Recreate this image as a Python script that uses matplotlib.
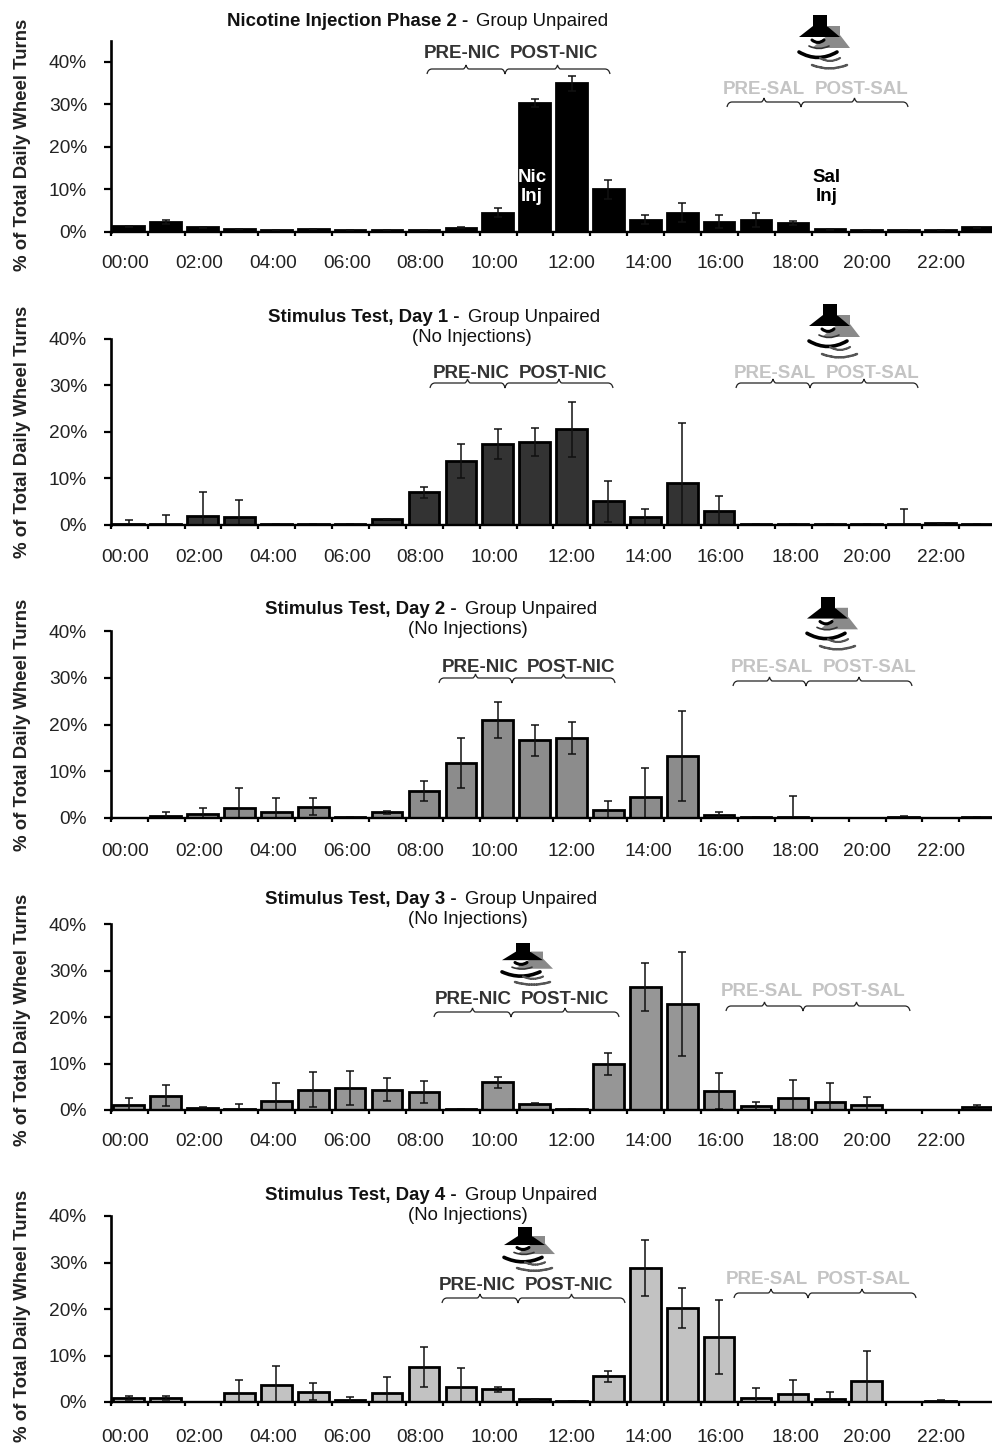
import matplotlib
matplotlib.use('Agg')
import matplotlib.pyplot as plt
from matplotlib.patches import Polygon, PathPatch
from matplotlib.path import Path

plt.rcParams['font.family'] = ['Liberation Sans', 'DejaVu Sans']

W, H = 992, 1446
AX_LEFT = 110.7
HOUR_PX = 36.9

hours = list(range(24))
hour_labels = ['00:00', '02:00', '04:00', '06:00', '08:00', '10:00',
               '12:00', '14:00', '16:00', '18:00', '20:00', '22:00']
y_ticks = [0, 10, 20, 30, 40]

# values, % of wheel turns per hour
nic_vals = [1.3, 2.3, 1.0, 0.7, 0.3, 0.6, 0.3, 0.3, 0.3, 0.9, 4.5, 30.3,
            35.0, 10.0, 2.8, 4.5, 2.4, 2.8, 2.0, 0.6, 0.3, 0.3, 0.3, 1.0]
nic_err = [0.1, 0.4, 0.1, 0, 0, 0, 0, 0, 0, 0.1, 1.1, 0.9,
           1.8, 2.2, 1.1, 2.2, 1.5, 1.7, 0.5, 0.1, 0, 0, 0, 0.1]
day1_vals = [0.1, 0.2, 1.9, 1.6, 0.1, 0.2, 0.2, 1.2, 6.9, 13.7, 17.3, 17.8,
             20.5, 5.0, 1.6, 9.0, 3.0, 0.1, 0.2, 0.2, 0.1, 0.1, 0.3, 0.1]
day1_err = [0.9, 1.9, 5.0, 3.6, 0, 0, 0, 0, 1.1, 3.6, 3.3, 3.0,
            5.9, 4.4, 1.8, 12.8, 3.2, 0, 0, 0, 0, 3.3, 0.1, 0]
day2_vals = [0.0, 0.4, 0.8, 2.2, 1.3, 2.4, 0.2, 1.2, 5.8, 11.8, 21.0, 16.6,
             17.1, 1.7, 4.4, 13.2, 0.6, 0.3, 0.3, 0.0, 0.0, 0.3, 0.0, 0.3]
day2_err = [0, 0.9, 1.3, 4.2, 2.9, 1.8, 0, 0.4, 2.1, 5.4, 3.8, 3.4,
            3.4, 2.0, 6.2, 9.6, 0.7, 0, 4.5, 0, 0, 0.1, 0, 0]
day3_vals = [1.1, 3.1, 0.4, 0.2, 1.9, 4.4, 4.7, 4.4, 3.9, 0.2, 6.0, 1.3,
             0.3, 9.9, 26.5, 22.8, 4.1, 0.8, 2.5, 1.7, 1.0, 0.0, 0.0, 0.6]
day3_err = [1.4, 2.2, 0.2, 1.1, 3.9, 3.8, 3.7, 2.4, 2.3, 0, 1.2, 0.2,
            0, 2.3, 5.2, 11.2, 3.9, 1.0, 3.9, 4.2, 1.7, 0, 0, 0.4]
day4_vals = [0.8, 0.8, 0.0, 2.0, 3.7, 2.2, 0.4, 2.0, 7.5, 3.2, 2.7, 0.7,
             0.2, 5.5, 28.8, 20.2, 14.0, 0.9, 1.7, 0.6, 4.5, 0.0, 0.3, 0.0]
day4_err = [0.4, 0.4, 0, 2.7, 4.1, 1.8, 0.7, 3.4, 4.3, 4.2, 0.6, 0,
            0, 1.2, 6.1, 4.3, 8.0, 2.2, 3.1, 1.6, 6.4, 0, 0.1, 0]

bold_titles = ['Nicotine Injection Phase 2 -', 'Stimulus Test, Day 1 -',
               'Stimulus Test, Day 2 -', 'Stimulus Test, Day 3 -',
               'Stimulus Test, Day 4 -']
bar_colors = ['#000000', '#333333', '#8c8c8c', '#969696', '#c2c2c2']
all_vals = [nic_vals, day1_vals, day2_vals, day3_vals, day4_vals]
all_err = [nic_err, day1_err, day2_err, day3_err, day4_err]

# the hour labels are not quite regular in the figure, px right of the tick
label_offs = [14.3, 14.5, 14.7, 14.9, 14.1, 14.3, 17.5, 20.7, 18.9, 20.1, 18.3, 18.5]

# pixel layout: y of 0%, y of 40%, top of spine, hour label y, y label centre
axes_px = [
    (231.7, 62, 41, 262, 145),
    (524.5, 338.5, 338.5, 556, 432),
    (818, 631, 631, 850, 725),
    (1110, 924, 924, 1140, 1020),
    (1402, 1216, 1216, 1436, 1316),
]
# title: bold x, plain x, title y, sub title x, sub title y
titles_px = [
    (227, 476, 22, None, None),
    (268, 468, 318, 412, 338),
    (265, 465, 610, 408, 630),
    (265, 465, 900, 408, 920),
    (265, 465, 1196, 408, 1216),
]
# braces: start, middle, end, flat y, label y
nic_braces = [(427, 505, 610, 69, 54), (430, 505, 613, 383, 373), (439, 512, 615, 678, 668),
              (434, 511, 619, 1012, 999), (442, 518, 625, 1298, 1285)]
sal_braces = [(727, 801, 908, 102, 89), (736, 810, 918, 383, 373), (733, 806, 912, 681, 668),
              (726, 803, 910, 1006, 991), (734, 808, 916, 1293, 1280)]
# x of PRE and POST labels
nic_labels = [(424, 510), (433, 519), (442, 527), (435, 521), (439, 525)]
sal_labels = [(723, 815), (734, 826), (731, 823), (721, 812), (726, 817)]
# speaker: stem centre, top, height scale
speakers = [(820, 15, 1.0), (830, 304, 1.0), (828, 597, 0.98), (523, 943, 0.78), (525, 1227, 0.82)]

fig = plt.figure(figsize=(W / 100, H / 100), dpi=100)
overlay = fig.add_axes([0, 0, 1, 1], zorder=5)
overlay.set_xlim(0, W)
overlay.set_ylim(H, 0)
overlay.axis('off')


def brace(x0, xm, x1, y, color='#222222'):
    # curly bracket, points up in each half and down at the middle
    h = 5
    q1 = (x0 + xm) / 2
    q2 = (xm + x1) / 2
    verts = [(x0, y + h), (x0 + 1, y), (x0 + 5, y), (q1 - 3, y), (q1 - 1, y), (q1, y - 4),
             (q1 + 1, y), (q1 + 3, y), (xm - 4, y), (xm - 1, y), (xm, y + h),
             (xm + 1, y), (xm + 4, y), (q2 - 3, y), (q2 - 1, y), (q2, y - 4),
             (q2 + 1, y), (q2 + 3, y), (x1 - 5, y), (x1 - 1, y), (x1, y + h)]
    codes = [Path.MOVETO, Path.CURVE3, Path.CURVE3, Path.LINETO, Path.CURVE3, Path.CURVE3,
             Path.CURVE3, Path.CURVE3, Path.LINETO, Path.CURVE3, Path.CURVE3,
             Path.CURVE3, Path.CURVE3, Path.LINETO, Path.CURVE3, Path.CURVE3,
             Path.CURVE3, Path.CURVE3, Path.LINETO, Path.CURVE3, Path.CURVE3]
    overlay.add_patch(PathPatch(Path(verts, codes), fc='none', ec=color, lw=0.9))


def arc(x0, x1, y, bow, color, lw, ls='-'):
    mid = (x0 + x1) / 2
    p = Path([(x0, y), (mid, y + bow), (x1, y)], [Path.MOVETO, Path.CURVE3, Path.CURVE3])
    overlay.add_patch(PathPatch(p, fc='none', ec=color, lw=lw, ls=ls, capstyle='round'))


def speaker(cx, top, sy):
    # grey one sits behind and lower right of the black one
    gx = cx + 14
    gy = top + 11 * sy
    overlay.add_patch(Polygon([(gx - 6, gy), (gx + 6, gy), (gx + 6, gy + 9 * sy), (gx + 16, gy + 22 * sy),
                               (gx - 22, gy + 22 * sy), (gx - 6, gy + 9 * sy)], fc='#8a8a8a', ec='none'))
    overlay.add_patch(Polygon([(cx - 7, top), (cx + 7, top), (cx + 7, top + 11 * sy), (cx + 20, top + 22 * sy),
                               (cx - 21, top + 22 * sy), (cx - 7, top + 11 * sy)], fc='black', ec='none'))
    arc(cx - 8, cx + 4, top + 25 * sy, 5 * sy, 'black', 2.2)
    arc(cx - 11, cx + 9, top + 31 * sy, 5 * sy, '#333333', 1.2)
    arc(cx - 21, cx + 17, top + 37 * sy, 11 * sy, 'black', 2.6)
    arc(cx, cx + 20, top + 43 * sy, 6 * sy, '#555555', 1.6, ls=(0, (0.6, 0.4)))
    arc(cx - 8, cx + 27, top + 50 * sy, 7 * sy, '#555555', 1.8, ls=(0, (0.6, 0.4)))


for i, (vals, errs) in enumerate(zip(all_vals, all_err)):
    y0, y40, ytop, lab_y, ylab_y = axes_px[i]
    ax = fig.add_axes([AX_LEFT / W, 1 - y0 / H, (W - AX_LEFT) / W, (y0 - ytop) / H])
    ax.set_xlim(0, (W - AX_LEFT) / HOUR_PX)
    ax.set_ylim(0, 40 * (y0 - ytop) / (y0 - y40))

    xs = [h + 0.49 for h in hours]
    ax.bar(xs, vals, width=0.83, color=bar_colors[i], edgecolor='black', linewidth=2.0)
    ax.errorbar(xs, vals, yerr=errs, fmt='none', ecolor='#111111', elinewidth=1.1,
                capsize=3, capthick=1.1)

    for s in ['top', 'right']:
        ax.spines[s].set_visible(False)
    ax.spines['left'].set_linewidth(1.9)
    ax.spines['bottom'].set_linewidth(1.7)
    ax.set_yticks(y_ticks)
    ax.set_yticklabels([f'{v}%' for v in y_ticks], fontsize=13.8, color='#222222')
    ax.set_xticks(hours)
    ax.set_xticklabels([])
    ax.tick_params(axis='y', direction='out', length=5, width=1.6, pad=12)
    ax.tick_params(axis='x', direction='out', length=3, width=1.6)
    for h, lab, off in zip(hours[::2], hour_labels, label_offs):
        ax.annotate(lab, (h + off / HOUR_PX, 0), xycoords=('data', 'axes fraction'),
                    xytext=(0, -(lab_y + 1.5 - y0) * 0.72), textcoords='offset points',
                    ha='center', va='center', fontsize=13.8, color='#222222', annotation_clip=False)

    overlay.text(22.5, ylab_y, '% of Total Daily Wheel Turns', rotation=90, ha='center',
                 va='center', fontsize=13.4, fontweight='bold', color='#222222')
    bx, px, ty, sx, sy = titles_px[i]
    overlay.text(bx, ty, bold_titles[i], ha='left', va='center', fontsize=13.4, fontweight='bold', color='#111111')
    overlay.text(px, ty, 'Group Unpaired', ha='left', va='center', fontsize=13.4, color='#111111')
    if sx is not None:
        overlay.text(sx, sy, '(No Injections)', ha='left', va='center', fontsize=13.4, color='#111111')

    n0, nm, n1, ny, nly = nic_braces[i]
    s0, sm, s1, say, sly = sal_braces[i]
    brace(n0, nm, n1, ny)
    brace(s0, sm, s1, say)
    overlay.text(nic_labels[i][0], nly, 'PRE-NIC', ha='left', va='center', fontsize=13.5, fontweight='bold', color='#333333')
    overlay.text(nic_labels[i][1], nly, 'POST-NIC', ha='left', va='center', fontsize=13.5, fontweight='bold', color='#333333')
    overlay.text(sal_labels[i][0], sly, 'PRE-SAL', ha='left', va='center', fontsize=13.5, fontweight='bold', color='#c4c4c4')
    overlay.text(sal_labels[i][1], sly, 'POST-SAL', ha='left', va='center', fontsize=13.5, fontweight='bold', color='#c4c4c4')
    speaker(*speakers[i])

overlay.text(532, 187, 'Nic\nInj', ha='center', va='center', fontsize=13.5, fontweight='bold', color='white', linespacing=1.1)
overlay.text(827, 187, 'Sal\nInj', ha='center', va='center', fontsize=13.5, fontweight='bold', color='black', linespacing=1.1)

fig.savefig('out.png', dpi=100)
